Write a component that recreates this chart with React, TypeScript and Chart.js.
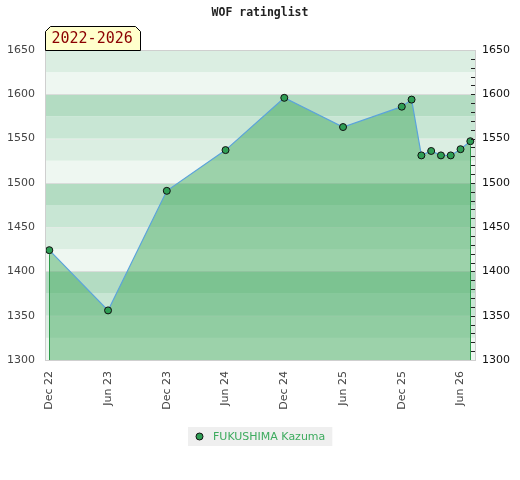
import React, { useEffect, useRef } from "react";
import { Chart, registerables } from "chart.js";

Chart.register(...registerables);

const TITLE = "WOF ratinglist";
const PERIOD = "2022-2026";
const PLAYER = "FUKUSHIMA Kazuma";

// months counted from Dec 2022
const months = [0, 6, 12, 18, 24, 30, 36, 37, 38, 39, 40, 41, 42, 43];
const ratings = [1424, 1356, 1491, 1537, 1596, 1563, 1586, 1594, 1531, 1536, 1531, 1531, 1538, 1547];

const tickMonths = [0, 6, 12, 18, 24, 30, 36, 42];
const tickLabels = ["Dec 22", "Jun 23", "Dec 23", "Jun 24", "Dec 24", "Jun 25", "Dec 25", "Jun 26"];
const yTicks = [1300, 1350, 1400, 1450, 1500, 1550, 1600, 1650];

const Y_MIN = 1300;
const Y_MAX = 1650;
const X_MIN = -0.44;
const X_MAX = 43.58;

const bandColors = ["#b3dcc2", "#c8e6d4", "#dbeee2", "#eef7f1"];

const decorPlugin = {
  id: "decor",
  beforeDraw(chart: any) {
    const { ctx, chartArea: a, scales } = chart;
    const y = scales.y;
    ctx.save();
    for (let v = Y_MIN; v < Y_MAX; v += 25) {
      const u = v + 25;
      const idx = ((100 - (u % 100)) % 100) / 25;
      const top = y.getPixelForValue(u);
      const bot = y.getPixelForValue(v);
      ctx.fillStyle = bandColors[idx];
      ctx.fillRect(a.left, top, a.right - a.left, bot - top);
    }
    for (let v = Y_MIN + 50; v < Y_MAX; v += 50) {
      const py = Math.round(y.getPixelForValue(v)) + 0.5;
      ctx.strokeStyle = v % 100 === 0 ? "#d9dcda" : "#e2ebe5";
      ctx.lineWidth = 1;
      ctx.beginPath();
      ctx.moveTo(a.left, py);
      ctx.lineTo(a.right, py);
      ctx.stroke();
    }
    // title
    ctx.fillStyle = "#222";
    ctx.font = "bold 11.5px 'DejaVu Sans Mono'";
    ctx.textAlign = "center";
    ctx.textBaseline = "middle";
    ctx.fillText(TITLE, 260, 13);
    ctx.restore();
  },
  afterDatasetsDraw(chart: any) {
    const { ctx, chartArea: a } = chart;
    const meta = chart.getDatasetMeta(0);
    const pts = meta.data;
    if (!pts.length) return;
    ctx.save();
    ctx.strokeStyle = "#2e9a4a";
    ctx.lineWidth = 1;
    [pts[0], pts[pts.length - 1]].forEach((p: any) => {
      const px = Math.round(p.x) + 0.5;
      ctx.beginPath();
      ctx.moveTo(px, p.y + 4);
      ctx.lineTo(px, a.bottom);
      ctx.stroke();
    });
    ctx.restore();
  },
  afterDraw(chart: any) {
    const { ctx, chartArea: a, scales } = chart;
    const y = scales.y;
    ctx.save();
    // border
    ctx.strokeStyle = "#cfcfcf";
    ctx.lineWidth = 1;
    ctx.strokeRect(Math.round(a.left) + 0.5, Math.round(a.top) + 0.5, Math.round(a.right - a.left) - 1, Math.round(a.bottom - a.top));
    // right minor ticks
    ctx.strokeStyle = "#222";
    for (let v = Y_MIN + 10; v < Y_MAX; v += 10) {
      const py = Math.round(y.getPixelForValue(v)) + 0.5;
      ctx.beginPath();
      ctx.moveTo(a.right - 5, py);
      ctx.lineTo(a.right - 1, py);
      ctx.stroke();
    }
    // period box
    const l = Math.round(a.left) + 0.5;
    const t = 26.5;
    const r = l + 95;
    const b = Math.round(a.top) + 0.5;
    ctx.beginPath();
    ctx.moveTo(l, b);
    ctx.lineTo(l, t + 5);
    ctx.lineTo(l + 5, t);
    ctx.lineTo(r - 5, t);
    ctx.lineTo(r, t + 5);
    ctx.lineTo(r, b);
    ctx.closePath();
    ctx.fillStyle = "#ffffcc";
    ctx.fill();
    ctx.strokeStyle = "#000";
    ctx.stroke();
    ctx.fillStyle = "#8b0000";
    ctx.font = "15px 'DejaVu Sans Mono'";
    ctx.textAlign = "left";
    ctx.textBaseline = "middle";
    ctx.fillText(PERIOD, l + 6, 39.5);
    // legend
    ctx.font = "11px 'DejaVu Sans'";
    const tw = ctx.measureText(PLAYER).width;
    const boxW = tw + 32;
    const boxX = Math.round(260 - boxW / 2);
    ctx.fillStyle = "#efefef";
    ctx.fillRect(boxX, 427, boxW, 19);
    ctx.beginPath();
    ctx.arc(boxX + 11.5, 436.5, 3.5, 0, Math.PI * 2);
    ctx.fillStyle = "#2f9e55";
    ctx.fill();
    ctx.strokeStyle = "#111";
    ctx.stroke();
    ctx.fillStyle = "#3dab5e";
    ctx.textBaseline = "middle";
    ctx.fillText(PLAYER, boxX + 25, 437);
    ctx.restore();
  },
};

export default function App() {
  const ref = useRef<HTMLCanvasElement | null>(null);

  useEffect(() => {
    if (!ref.current) return;
    const font = { family: "'DejaVu Sans'", size: 11 };
    const plain = (v: any) => String(v);
    const chart = new Chart(ref.current, {
      type: "line",
      data: {
        datasets: [
          {
            label: PLAYER,
            data: months.map((m, i) => ({ x: m, y: ratings[i] })),
            borderColor: "#5ba3dc",
            borderWidth: 1.2,
            backgroundColor: "rgba(58,166,87,0.46)",
            fill: "start",
            tension: 0,
            pointRadius: 3.5,
            pointBackgroundColor: "#2f9e55",
            pointBorderColor: "#111",
            pointBorderWidth: 1,
          },
        ],
      },
      options: {
        animation: false,
        responsive: false,
        devicePixelRatio: 1,
        layout: { padding: { top: 50, left: 0, right: 0, bottom: 0 } },
        plugins: {
          legend: { display: false },
          title: { display: false },
          tooltip: { enabled: false },
        },
        scales: {
          x: {
            type: "linear",
            min: X_MIN,
            max: X_MAX,
            grid: { display: false, drawTicks: false },
            border: { display: false },
            afterBuildTicks: (s: any) => {
              s.ticks = tickMonths.map((v) => ({ value: v }));
            },
            afterFit: (s: any) => {
              s.height = 120;
            },
            ticks: {
              autoSkip: false,
              minRotation: 90,
              maxRotation: 90,
              padding: 11,
              color: "#444",
              font,
              callback: (v: any) => {
                const i = tickMonths.indexOf(Number(v));
                return i >= 0 ? tickLabels[i] : "";
              },
            },
          },
          y: {
            type: "linear",
            position: "left",
            min: Y_MIN,
            max: Y_MAX,
            grid: { display: false, drawTicks: false },
            border: { display: false },
            afterBuildTicks: (s: any) => {
              s.ticks = yTicks.map((v) => ({ value: v }));
            },
            afterFit: (s: any) => {
              s.width = 45;
            },
            ticks: { padding: 10, color: "#444", font, callback: plain },
          },
          y2: {
            type: "linear",
            position: "right",
            min: Y_MIN,
            max: Y_MAX,
            grid: { display: false, drawTicks: false },
            border: { display: false },
            afterBuildTicks: (s: any) => {
              s.ticks = yTicks.map((v) => ({ value: v }));
            },
            afterFit: (s: any) => {
              s.width = 44;
            },
            ticks: { padding: 6, color: "#111", font, callback: plain },
          },
        },
      } as any,
      plugins: [decorPlugin],
    });
    return () => chart.destroy();
  }, []);

  return (
    <div style={{ position: "absolute", left: 0, top: 0, width: 520, height: 480 }}>
      <canvas ref={ref} width={520} height={480} style={{ width: 520, height: 480 }} />
    </div>
  );
}
